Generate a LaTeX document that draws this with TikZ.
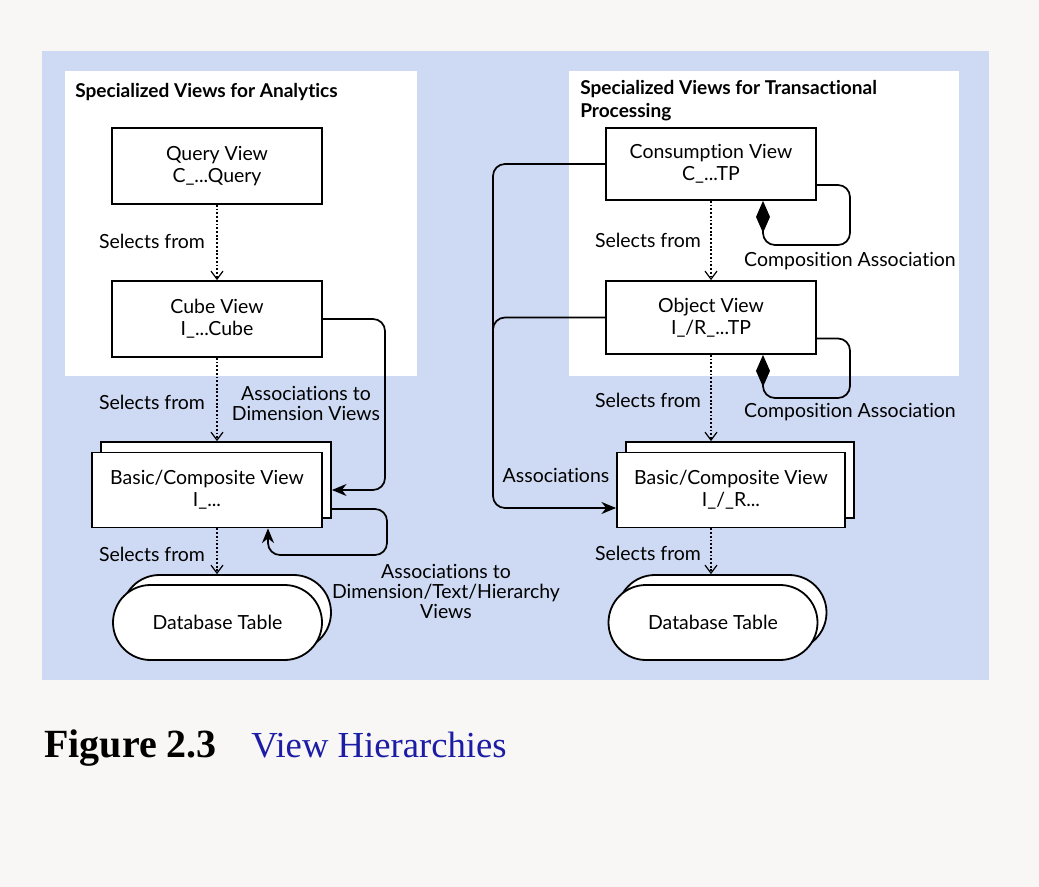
\documentclass[tikz,border=0pt]{standalone}
\usepackage{fontspec}
\setmainfont{Liberation Serif}
\newfontfamily\diag[Ligatures=NoCommon]{Lato}
\usetikzlibrary{arrows.meta,shapes.misc,calc}
\definecolor{pagebg}{RGB}{248,247,246}
\definecolor{panel}{RGB}{206,218,243}
\definecolor{captionblue}{RGB}{28,28,165}
\begin{document}
\begin{tikzpicture}[x=0.75pt,y=-0.75pt,
  every node/.style={font=\diag\fontsize{14.6}{16.5}\selectfont},
  viewbox/.style={draw, line width=1.35pt, fill=white, align=center, inner sep=0pt},
  tablebox/.style={viewbox, rounded rectangle},
  sel/.style={line width=0.9pt, dash pattern=on 1.4pt off 1.4pt, -{Straight Barb[length=6pt,width=9pt]}},
  assoc/.style={line width=1.3pt, rounded corners=9pt, -{Stealth[length=11pt,width=9pt]}},
  plainline/.style={line width=1.3pt, rounded corners=9pt},
  comp/.style={line width=1.3pt, rounded corners=9pt, -{Diamond[length=24pt,width=10.5pt]}},
  lbl/.style={align=center, inner sep=0pt, font=\diag\fontsize{14.6}{15}\selectfont},
  title/.style={font=\diag\bfseries\fontsize{14.3}{17}\selectfont, anchor=west, align=left, inner sep=0pt}
]
% page and panels
\fill[pagebg] (0,0) rectangle (1039,887);
\useasboundingbox (0,0) rectangle (1039,887);
\fill[panel] (42,51) rectangle (989,680);
\fill[white] (65,71) rectangle (417,376);
\fill[white] (569,71) rectangle (959,376);

% titles
\node[title] (t1) at (75,92) {Specialized Views for Analytics};
\node[title] (t2) at (580,100.5) {Specialized Views for Transactional\\Processing};

% left column
\node[viewbox, minimum width=157.5pt, minimum height=57pt] (query) at (217,166) {Query View\\C\_...Query};
\node[viewbox, minimum width=157.5pt, minimum height=57pt] (cube) at (217,319) {Cube View\\I\_...Cube};
\node[viewbox, minimum width=172.5pt, minimum height=57pt] (lbback) at (216,480) {};
\node[viewbox, minimum width=172.5pt, minimum height=56.25pt] (lbfront) at (207,490) {Basic/Composite View\\I\_...};
\node[tablebox, minimum width=156.75pt, minimum height=56.25pt] (ldbback) at (226.5,612.5) {};
\node[tablebox, minimum width=156.75pt, minimum height=56.25pt] (ldb) at (217.5,622.5) {Database Table};

% right column
\node[viewbox, minimum width=157.5pt, minimum height=54pt] (cons) at (711,164) {Consumption View\\C\_...TP};
\node[viewbox, minimum width=157.5pt, minimum height=54.75pt] (obj) at (711,317.5) {Object View\\I\_/R\_...TP};
\node[viewbox, minimum width=171pt, minimum height=57pt] (rbback) at (740,480) {};
\node[viewbox, minimum width=171pt, minimum height=56.25pt] (rbfront) at (731,490) {Basic/Composite View\\I\_/\_R...};
\node[tablebox, minimum width=156.75pt, minimum height=56.25pt] (rdbback) at (722,612.5) {};
\node[tablebox, minimum width=156.75pt, minimum height=56.25pt] (rdb) at (713,622.5) {Database Table};

% selects-from connectors
\draw[sel] (query.south) -- (cube.north);
\draw[sel] (cube.south) -- (cube.south |- lbback.north);
\draw[sel] (cube.south |- lbfront.south) -- (cube.south |- ldbback.north);
\draw[sel] (cons.south) -- (obj.north);
\draw[sel] (obj.south) -- (obj.south |- rbback.north);
\draw[sel] (obj.south |- rbfront.south) -- (obj.south |- rdbback.north);

\node[lbl] (s1) at (152,241) {Selects from};
\node[lbl] (s2) at (152,402) {Selects from};
\node[lbl] (s3) at (152,554) {Selects from};
\node[lbl] (s4) at (648,240) {Selects from};
\node[lbl] (s5) at (648,400) {Selects from};
\node[lbl] (s6) at (648,553) {Selects from};

% left associations
\draw[assoc] (cube.east) -- (385,319) -- (385,490) -- ($(lbback.east)+(0,10)$);
\draw[assoc] ($(lbback.east)+(0,29)$) -- (387,509) -- (387,555) -- (268,555) -- ($(lbfront.south)+(61,0)$);
\node[lbl] (a1) at (306,403) {Associations to\\Dimension Views};
\node[lbl] (a2) at (446,591) {Associations to\\Dimension/Text/Hierarchy\\Views};

% right associations
\draw[assoc] (cons.west) -- (493,164) -- (493,508) -- ($(rbfront.west)+(0,18)$);
\draw[plainline] (obj.west) -- (493,317.5) -- (493,360);
\node[lbl] (a3) at (556,475) {Associations};

% compositions
\draw[comp] ($(cons.east)+(0,21)$) -- (850,185) -- (850,245) -- (763,245) -- ($(cons.south)+(52,0)$);
\draw[comp] ($(obj.east)+(0,21)$) -- (850,338.5) -- (850,398) -- (763,398) -- ($(obj.south)+(52,0)$);
\node[lbl] (c1) at (850,261) {Composition Association};
\node[lbl] (c2) at (850,412) {Composition Association};

% caption
\node[anchor=base west, inner sep=0pt, font=\rmfamily\bfseries\fontsize{30}{32}\selectfont] (fig) at (44,757) {Figure 2.3};
\node[anchor=base west, inner sep=0pt, text=captionblue, font=\rmfamily\fontsize{27.5}{30}\selectfont] (cap) at (251,757) {View Hierarchies};
\end{tikzpicture}
\end{document}
